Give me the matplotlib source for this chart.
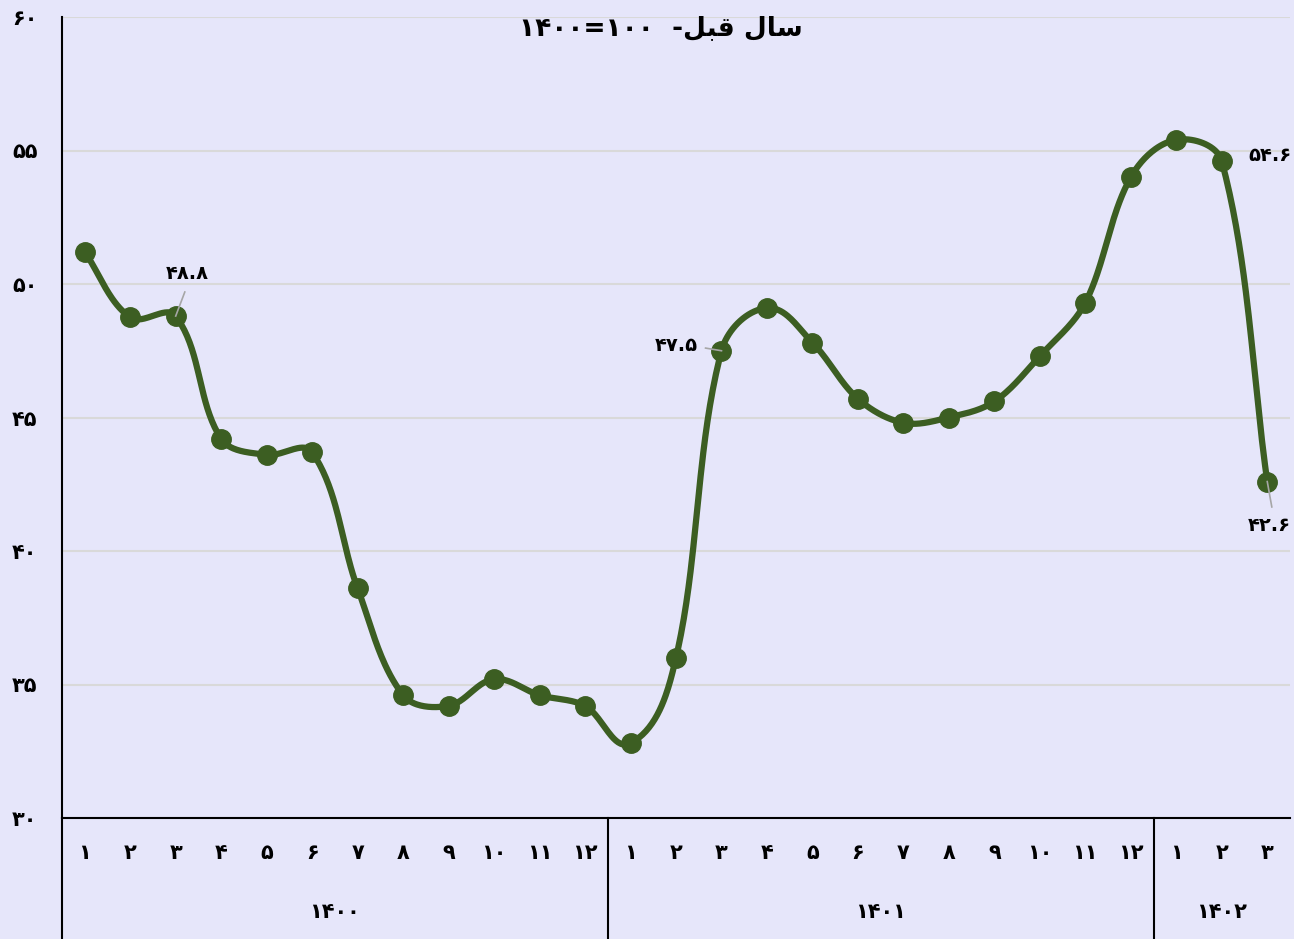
import numpy as np
import matplotlib
matplotlib.use("Agg")
import matplotlib.pyplot as plt
from matplotlib.lines import Line2D

plt.rcParams['font.family'] = ['DejaVu Sans']

# data
fa = str.maketrans("0123456789", "۰۱۲۳۴۵۶۷۸۹")
years = ["1400", "1401", "1402"]
months_per_year = [12, 12, 3]
values = [51.2, 48.75, 48.8, 44.2, 43.6, 43.7, 38.6, 34.6, 34.2, 35.2, 34.6, 34.2,
          32.8, 36.0, 47.5, 49.1, 47.8, 45.7, 44.8, 45.0, 45.6, 47.3, 49.3, 54.0,
          55.4, 54.6, 42.6]
labeled = {2: "48.8", 14: "47.5", 25: "54.6", 26: "42.6"}
# visual-order shaped title (سال قبل- ۱۰۰=۱۴۰۰)
title = "۱۴۰۰=۱۰۰  -\ufede\ufe92\ufed7 \ufedd\ufe8e\ufeb3"

bg = "#E6E6FA"
green = "#3C5E22"

fig = plt.figure(figsize=(12.94, 9.39), dpi=100, facecolor=bg)
ax = fig.add_axes([62/1294, 1-818/939, 1228/1294, 801/939], facecolor=bg)

x = np.arange(len(values))
y = np.array(values)

# smoothed line like a spreadsheet: bezier with chord-length control arms (screen scale)
xs, ys = 45.5, 26.7  # px per unit
P = np.column_stack([x * xs, y * ys])
n = len(P)
tang = np.zeros_like(P)
for i in range(n):
    a = P[max(i-1, 0)]
    b = P[min(i+1, n-1)]
    d = b - a
    tang[i] = d / np.hypot(*d)
sx, sy = [], []
t = np.linspace(0, 1, 40)[:, None]
for i in range(n - 1):
    L = np.hypot(*(P[i+1] - P[i]))
    c1 = P[i] + tang[i] * L / 3
    c2 = P[i+1] - tang[i+1] * L / 3
    c = (1-t)**3 * P[i] + 3*(1-t)**2*t * c1 + 3*(1-t)*t**2 * c2 + t**3 * P[i+1]
    sx.extend(c[:, 0] / xs); sy.extend(c[:, 1] / ys)
ax.plot(sx, sy, color=green, lw=4.5, solid_capstyle='round', zorder=3)
ax.plot(x, y, 'o', color=green, ms=14, zorder=4)

ax.set_xlim(-0.5, len(values) - 0.5)
ax.set_ylim(30, 60)
ax.set_yticks(range(30, 61, 5))
ax.set_yticklabels([str(v).translate(fa) for v in range(30, 61, 5)], fontsize=15, fontweight='bold')
ax.tick_params(axis='y', length=0, pad=36)
for lab in ax.get_yticklabels():
    lab.set_ha('left')
ax.set_xticks([])
ax.grid(axis='y', color='#D9D9D9', lw=1.5)
ax.set_axisbelow(True)
for s in ['top', 'right']:
    ax.spines[s].set_visible(False)
ax.spines['left'].set_linewidth(1.5)
ax.spines['bottom'].set_linewidth(1.5)

# multi-level category axis
trans = ax.get_xaxis_transform()
i = 0
bounds = [-0.5]
for yr, n_m in zip(years, months_per_year):
    for m in range(1, n_m + 1):
        ax.text(i, -0.0437, str(m).translate(fa), transform=trans, ha='center', va='center',
                fontsize=15, fontweight='bold')
        i += 1
    ax.text(i - n_m / 2 - 0.5, -0.117, yr.translate(fa), transform=trans, ha='center', va='center',
            fontsize=15, fontweight='bold')
    bounds.append(i - 0.5)
for b in bounds[:-1]:
    ax.add_line(Line2D([b, b], [0, -0.16], transform=trans, color='black', lw=1.5, clip_on=False))

# data labels with leader lines
offsets = {2: (0.25, 1.6, 0.2, 0.9), 14: (-1.0, 0.2, -0.35, 0.1),
           25: (1.05, 0.2, 0.0, 0.0), 26: (0.05, -1.65, 0.1, -0.95)}
for k, txt in labeled.items():
    dx, dy, lx, ly = offsets[k]
    if lx or ly:
        ax.plot([x[k], x[k] + lx], [y[k], y[k] + ly], color='#A6A6A6', lw=1.2, zorder=5)
    ax.text(x[k] + dx, y[k] + dy, txt.translate(fa), ha='center', va='center',
            fontsize=14, fontweight='bold', clip_on=False, zorder=6)

fig.text(661/1294, 1-28/939, title, ha='center', va='center', fontsize=19, fontweight='bold')

fig.savefig("out.png", dpi=100, facecolor=bg)
